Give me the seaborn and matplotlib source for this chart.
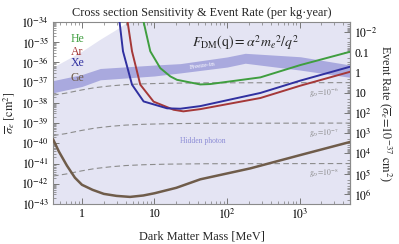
import numpy as np
import matplotlib
matplotlib.use("Agg")
import matplotlib.pyplot as plt
import matplotlib.ticker as mticker
import seaborn as sns

# Values (log10 of cross section in cm^2, mass in MeV)
xe_mass = [3.1, 3.3, 3.68, 4.9, 7.08, 14.9, 22.7, 42.8, 288, 1024, 5000]
xe_logsig = [-33.5, -34.0, -35.45, -37.10, -37.93, -38.27, -38.29, -38.16, -37.51, -36.9, -36.21]

ar_mass = [4.0, 4.26, 4.9, 6.37, 9.72, 18.3, 25.0, 42.8, 288, 1024, 5000]
ar_logsig = [-33.5, -34.0, -35.45, -37.10, -37.94, -38.34, -38.42, -38.31, -37.76, -37.15, -36.46]

he_mass = [6.6, 7.08, 8.75, 12.0, 16.5, 20.4, 42.8, 58.7, 288, 1024, 5000]
he_logsig = [-33.5, -34.0, -35.45, -36.28, -36.69, -36.86, -37.09, -37.07, -36.74, -36.13, -35.47]

ge_mass = [0.4, 0.48, 0.62, 0.8, 1.0, 1.4, 2.0, 3.0, 4.6, 7.0, 10, 20, 42.8, 209, 1024, 5000]
ge_logsig = [-39.8, -40.4, -41.1, -41.7, -42.05, -42.3, -42.5, -42.6, -42.65, -42.58, -42.47,
             -42.2, -41.78, -41.24, -40.58, -39.93]

# hidden photon reference lines
gd_mass = [0.4, 0.6, 1, 1.5, 2.5, 4, 7, 15, 50, 5000]
gd_shape = [-0.62, -0.52, -0.36, -0.25, -0.16, -0.10, -0.06, -0.03, -0.01, 0.0]
gd_levels = [-37.0, -39.0, -41.0]
gd_labels = [r"$g_D\!=\!10^{-6}$", r"$g_D\!=\!10^{-7}$", r"$g_D\!=\!10^{-8}$"]

# freeze-in band
fi_mass = [0.4, 1, 1.79, 10, 22.7, 100, 178, 1024, 5000]
fi_top = [-36.9, -36.6, -36.3, -36.13, -36.06, -35.73, -35.55, -35.72, -36.13]
fi_bot = [-37.5, -37.19, -36.86, -36.67, -36.52, -36.23, -36.04, -36.38, -36.74]

# upper edge of the light shaded region
sh_mass = [0.4, 1, 1.79, 3, 4.4, 10, 100, 5000]
sh_top = [-36.27, -35.49, -34.89, -34.4, -34.0, -33.0, -31.0, -29.0]

# tick positions
sig_ticks = [10.0 ** e for e in range(-43, -33)]
rate_ticks = [10.0 ** e for e in range(-2, 7)]
mass_ticks = [1, 10, 100, 1000]

sns.set_style("ticks")
plt.rcParams["font.family"] = ["Liberation Serif", "DejaVu Serif"]
plt.rcParams["mathtext.fontset"] = "stix"
plt.rcParams["axes.edgecolor"] = "#8a8a8a"
plt.rcParams["axes.linewidth"] = 0.8

fig = plt.figure(figsize=(3.99, 2.44), dpi=100)
ax = fig.add_axes([0.133, 0.164, 0.745, 0.746])

light = "#e4e4f3"
band = "#a9a9de"
ax.fill_between(sh_mass, 1e-50, np.power(10.0, sh_top), color=light, lw=0, zorder=0)
ax.fill_between(fi_mass, np.power(10.0, fi_bot), np.power(10.0, fi_top), color=band, lw=0, zorder=1)

for lev in gd_levels:
    sns.lineplot(x=gd_mass, y=np.power(10.0, np.array(gd_shape) + lev), ax=ax,
                 color="#8c8c8c", lw=0.8, linestyle=(0, (5, 3)), zorder=2)

sns.lineplot(x=he_mass, y=np.power(10.0, he_logsig), ax=ax, color="#3f9e3f", lw=1.4, zorder=3)
sns.lineplot(x=ar_mass, y=np.power(10.0, ar_logsig), ax=ax, color="#a53838", lw=1.4, zorder=3)
sns.lineplot(x=xe_mass, y=np.power(10.0, xe_logsig), ax=ax, color="#3030a0", lw=1.4, zorder=3)
sns.lineplot(x=ge_mass, y=np.power(10.0, ge_logsig), ax=ax, color="#6f5c4a", lw=1.8, zorder=3)

ax.set_xscale("log")
ax.set_yscale("log")
ax.set_xlim(0.4, 5000)
ax.set_ylim(1e-43, 1e-34)

ax.yaxis.set_major_locator(mticker.FixedLocator(sig_ticks))
ax.yaxis.set_minor_locator(mticker.LogLocator(base=10, subs=np.arange(2, 10), numticks=20))
ax.yaxis.set_minor_formatter(mticker.NullFormatter())
ax.yaxis.set_major_formatter(mticker.FuncFormatter(lambda v, p: r"$10^{%d}$" % round(np.log10(v))))


def xfmt(v, p):
    e = round(np.log10(v))
    if e == 0:
        return "1"
    if e == 1:
        return "10"
    return r"$10^{%d}$" % e


ax.xaxis.set_major_locator(mticker.FixedLocator(mass_ticks))
ax.xaxis.set_major_formatter(mticker.FuncFormatter(xfmt))
ax.xaxis.set_minor_formatter(mticker.NullFormatter())
ax.tick_params(which="both", direction="in", top=True, right=False, colors="#777777",
               labelcolor="black", labelsize=8.5, pad=3)
ax.tick_params(which="major", length=4, width=0.7)
ax.tick_params(which="minor", length=2, width=0.5)

# event rate axis
k = 10 ** -36.5


def to_rate(s):
    s = np.asarray(s, dtype=float)
    with np.errstate(divide="ignore"):
        return k / s


sec = ax.secondary_yaxis("right", functions=(to_rate, to_rate))
sec.yaxis.set_major_locator(mticker.FixedLocator(rate_ticks))
sec.yaxis.set_minor_locator(mticker.LogLocator(base=10, subs=np.arange(2, 10), numticks=20))
sec.yaxis.set_minor_formatter(mticker.NullFormatter())


def rfmt(v, p):
    e = round(np.log10(v))
    return {-1: "0.1", 0: "1", 1: "10"}.get(e, r"$10^{%d}$" % e)


sec.yaxis.set_major_formatter(mticker.FuncFormatter(rfmt))
sec.tick_params(which="both", direction="in", colors="#777777", labelcolor="black",
                labelsize=8.5, pad=3)
sec.tick_params(which="major", length=4, width=0.7)
sec.tick_params(which="minor", length=2, width=0.5)
sec.set_ylabel(r"Event Rate ($\overline{\sigma}_e\!=\!10^{-37}\ \mathrm{cm}^2$)",
               rotation=270, labelpad=11, fontsize=8.8)

ax.set_xlabel("Dark Matter Mass [MeV]", fontsize=8.8, labelpad=6)
ax.set_ylabel(r"$\overline{\sigma}_e\ [\mathrm{cm}^2]$", fontsize=8.8, labelpad=3)
ax.set_title("Cross section Sensitivity & Event Rate (per kg\u00b7year)", fontsize=8.8, pad=4)

# annotations
for name, ly, c in [("He", -34.84, "#3f9e3f"), ("Ar", -35.49, "#a53838"),
                    ("Xe", -36.03, "#3030a0"), ("Ge", -36.77, "#6f5c4a")]:
    ax.text(0.86, 10 ** ly, name, color=c, fontsize=8.5, ha="center", va="center")

ax.text(179, 10 ** -35.04, r"$F_{\rm DM}(\mathrm{q}) = \alpha^2 m_e{}^2/q^2$",
        fontsize=10, ha="center", va="center")
ax.text(45.9, 10 ** -36.18, "Freeze-in", color="white", fontsize=5, ha="center",
        va="center", rotation=8)
ax.text(45.9, 10 ** -39.89, "Hidden photon", color="#8c8cd6", fontsize=5.5, ha="center", va="center")
for lab, lev in zip(gd_labels, gd_levels):
    ax.text(2140, 10 ** (lev - 0.5), lab, color="#8c8c8c", fontsize=5.5, ha="center", va="center")

fig.savefig("out.png", dpi=100)
